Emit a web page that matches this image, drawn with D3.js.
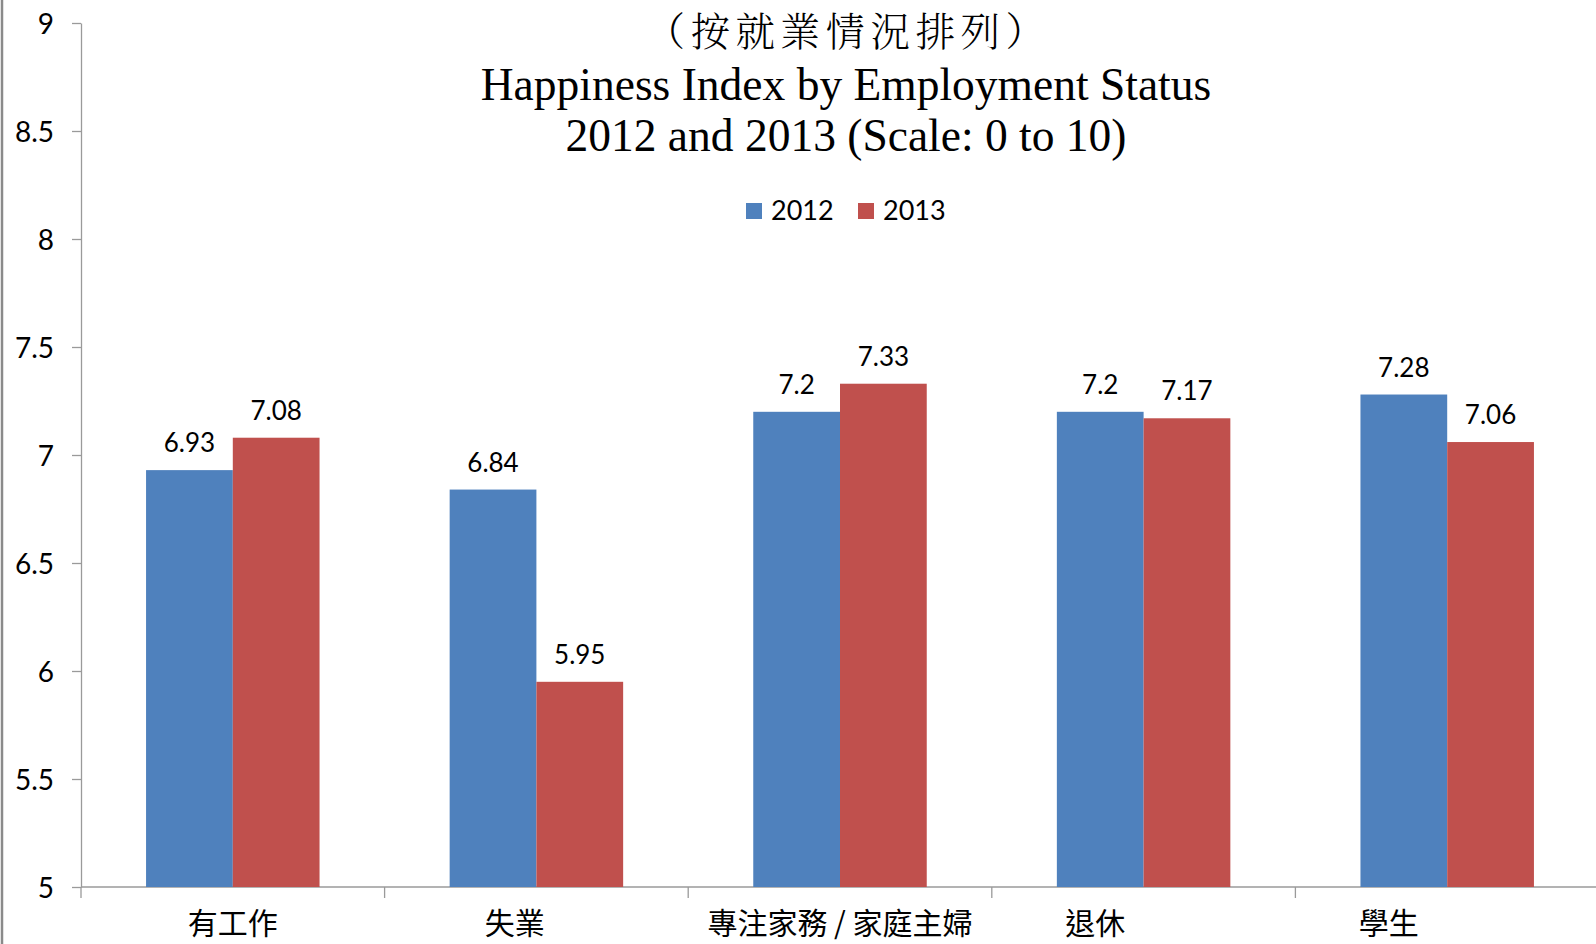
<!DOCTYPE html>
<html>
<head>
<meta charset="utf-8">
<title>Happiness Index by Employment Status</title>
<style>
  body { margin: 0; background: #fff; }
  svg { display: block; }
  svg text { text-spacing-trim: space-all; }
  .tick text { font-family: Lato, "Open Sans", sans-serif; }
</style>
</head>
<body>
<div id="chart"></div>
<script src="https://d3js.org/d3.v7.min.js"></script>
<script>
// data
const categories = ['有工作', '失業　  ', '專注家務 / 家庭主婦', '退休　　　 ', '學生　　　    '];
const seriesNames = ['2012', '2013'];
const values2012 = [6.93, 6.84, 7.2, 7.2, 7.28];
const values2013 = [7.08, 5.95, 7.33, 7.17, 7.06];
const yTicks = [5, 5.5, 6, 6.5, 7, 7.5, 8, 8.5, 9];
const titleLines = ['（按就業情況排列）', 'Happiness Index by Employment Status', '2012 and 2013 (Scale: 0 to 10)'];

const W = 1596, H = 944;
const colors = ['#4f81bd', '#c0504d'];
const axisColor = '#9a9a9a';

const svg = d3.select('#chart').append('svg').attr('width', W).attr('height', H);

// outer frame edge on the left
svg.append('line').attr('x1', 2).attr('x2', 2).attr('y1', 0).attr('y2', H)
  .attr('stroke', '#8a8a8a').attr('stroke-width', 2.5);

const x = d3.scaleBand().domain(categories).range([81, 1599]).padding(0);
const xs = d3.scaleBand().domain(seriesNames).range([0, x.bandwidth()]).paddingInner(0).paddingOuter(0.75);
const y = d3.scaleLinear().domain([5, 9]).range([887, 23]);

// y axis
const yAxis = d3.axisLeft(y).tickValues(yTicks).tickSize(9).tickSizeOuter(0).tickPadding(18)
  .tickFormat(d => String(d));
const gy = svg.append('g').attr('transform', 'translate(81,0)').call(yAxis);
gy.selectAll('path, line').attr('stroke', axisColor).attr('stroke-width', 1.3);
gy.selectAll('text').attr('fill', '#000').style('font-size', '28px').attr('dy', '0.36em');

// x axis: baseline, boundary ticks, labels
const gx = svg.append('g');
gx.append('line').attr('x1', 81).attr('x2', 1599).attr('y1', y(5)).attr('y2', y(5))
  .attr('stroke', axisColor).attr('stroke-width', 1.3);
const bounds = categories.map(c => x(c)).concat([x(categories[categories.length - 1]) + x.bandwidth()]);
gx.selectAll('line.bt').data(bounds).enter().append('line').attr('class', 'bt')
  .attr('x1', d => d).attr('x2', d => d).attr('y1', y(5)).attr('y2', y(5) + 11)
  .attr('stroke', axisColor).attr('stroke-width', 1.3);
gx.selectAll('text.cat').data(categories).enter().append('text').attr('class', 'cat')
  .attr('x', d => x(d) + x.bandwidth() / 2).attr('y', 934)
  .attr('text-anchor', 'middle').style('white-space', 'pre')
  .style('font-family', '"Noto Sans CJK TC", sans-serif').style('font-size', '30px')
  .attr('fill', '#000').text(d => d);

// bars
const rows = categories.map((c, i) => ({ cat: c, vals: [values2012[i], values2013[i]] }));
const groups = svg.selectAll('g.grp').data(rows).enter().append('g').attr('class', 'grp')
  .attr('transform', d => 'translate(' + x(d.cat) + ',0)');
groups.selectAll('rect').data(d => d.vals.map((v, j) => ({ s: seriesNames[j], v: v, j: j })))
  .enter().append('rect')
  .attr('x', d => xs(d.s)).attr('width', xs.bandwidth())
  .attr('y', d => y(d.v)).attr('height', d => y(5) - y(d.v))
  .attr('fill', d => colors[d.j]);
groups.selectAll('text').data(d => d.vals.map((v, j) => ({ s: seriesNames[j], v: v })))
  .enter().append('text')
  .attr('x', d => xs(d.s) + xs.bandwidth() / 2).attr('y', d => y(d.v) - 18)
  .attr('text-anchor', 'middle')
  .style('font-family', 'Lato, "Open Sans", sans-serif').style('font-size', '26px')
  .attr('fill', '#000').text(d => String(d.v));

// title
svg.append('text').attr('x', 848).attr('y', 46).attr('text-anchor', 'middle')
  .style('font-family', '"Noto Serif CJK TC", "Noto Sans CJK TC", serif').style('font-size', '39.5px')
  .style('font-weight', '300').style('letter-spacing', '5.5px').attr('fill', '#000')
  .text(titleLines[0]);
svg.append('text').attr('x', 846).attr('y', 100).attr('text-anchor', 'middle')
  .style('font-family', '"Liberation Serif", "Times New Roman", serif').style('font-size', '45.5px')
  .attr('fill', '#000').text(titleLines[1]);
svg.append('text').attr('x', 846).attr('y', 151).attr('text-anchor', 'middle')
  .style('font-family', '"Liberation Serif", "Times New Roman", serif').style('font-size', '45.5px')
  .attr('fill', '#000').text(titleLines[2]);

// legend
const legend = svg.append('g').attr('transform', 'translate(746,203)');
const lx = [0, 112];
seriesNames.forEach((s, i) => {
  legend.append('rect').attr('x', lx[i]).attr('y', 0).attr('width', 16).attr('height', 16).attr('fill', colors[i]);
  legend.append('text').attr('x', lx[i] + 25).attr('y', 17)
    .style('font-family', 'Lato, "Open Sans", sans-serif').style('font-size', '27px')
    .attr('fill', '#000').text(s);
});
</script>
</body>
</html>
